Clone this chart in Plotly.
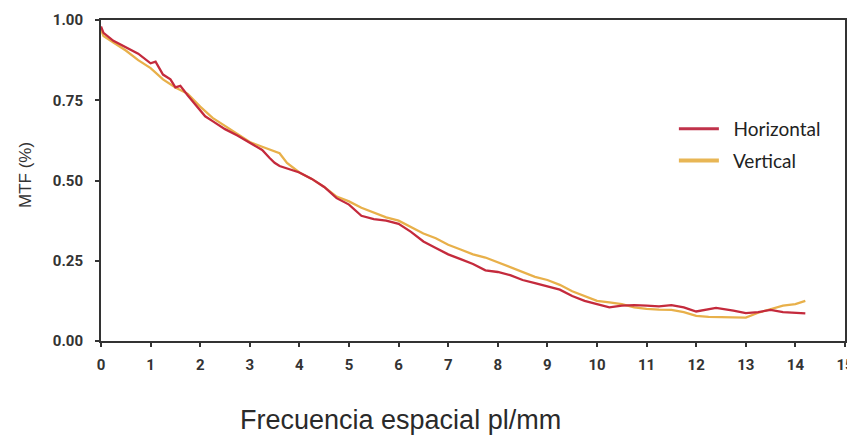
import plotly.graph_objects as go

# Horizontal (red) MTF curve
h_x = [0.00, 0.05, 0.25, 0.50, 0.60, 0.75, 1.00, 1.10, 1.25, 1.40, 1.50, 1.60, 1.75, 2.00, 2.10,
       2.25, 2.50, 2.75, 3.00, 3.25, 3.40, 3.50, 3.60, 3.75, 4.00, 4.25, 4.50, 4.75, 5.00, 5.25, 5.50,
       5.75, 6.00, 6.25, 6.50, 6.75, 7.00, 7.25, 7.50, 7.75, 8.00, 8.25, 8.50, 8.75, 9.00, 9.25,
       9.50, 9.75, 10.00, 10.25, 10.50, 10.75, 11.00, 11.25, 11.50, 11.75, 12.00, 12.25, 12.40,
       12.75, 13.00, 13.25, 13.50, 13.75, 14.00, 14.20]
h_y = [0.98, 0.96, 0.935, 0.915, 0.905, 0.895, 0.865, 0.87, 0.83, 0.815, 0.79, 0.795, 0.765, 0.72, 0.70,
       0.685, 0.66, 0.64, 0.617, 0.595, 0.57, 0.555, 0.545, 0.537, 0.525, 0.505, 0.48, 0.445, 0.425, 0.39, 0.38,
       0.375, 0.365, 0.34, 0.31, 0.29, 0.27, 0.255, 0.24, 0.22, 0.215, 0.205, 0.19, 0.18, 0.17, 0.16,
       0.14, 0.125, 0.115, 0.105, 0.11, 0.112, 0.11, 0.108, 0.112, 0.105, 0.092, 0.10, 0.103,
       0.095, 0.087, 0.09, 0.097, 0.09, 0.087, 0.086]

# Vertical (yellow) MTF curve
v_x = [0.00, 0.05, 0.25, 0.50, 0.75, 1.00, 1.25, 1.50, 1.75, 2.00, 2.25, 2.50, 2.75, 3.00, 3.25,
       3.50, 3.60, 3.75, 4.00, 4.25, 4.50, 4.75, 5.00, 5.25, 5.50, 5.75, 6.00, 6.25, 6.50, 6.75,
       7.00, 7.25, 7.50, 7.75, 8.00, 8.25, 8.50, 8.75, 9.00, 9.25, 9.50, 9.75, 10.00, 10.25, 10.50,
       10.75, 11.00, 11.25, 11.50, 11.75, 12.00, 12.25, 12.50, 12.75, 13.00, 13.25, 13.50, 13.75,
       14.00, 14.20]
v_y = [0.97, 0.95, 0.93, 0.905, 0.875, 0.85, 0.815, 0.79, 0.77, 0.73, 0.695, 0.67, 0.645, 0.62, 0.605,
       0.59, 0.585, 0.555, 0.525, 0.505, 0.48, 0.45, 0.435, 0.415, 0.40, 0.385, 0.375, 0.355, 0.335, 0.32,
       0.30, 0.285, 0.27, 0.26, 0.245, 0.23, 0.215, 0.20, 0.19, 0.175, 0.155, 0.14, 0.125, 0.12, 0.115,
       0.105, 0.10, 0.098, 0.097, 0.09, 0.078, 0.075, 0.074, 0.072, 0.073, 0.088, 0.10, 0.11,
       0.115, 0.125]

x_ticks = list(range(0, 16))
y_ticks = [0.0, 0.25, 0.5, 0.75, 1.0]
y_tick_text = ["0.00", "0.25", "0.50", "0.75", "1.00"]

tick_font = dict(family="Liberation Sans Narrow, Roboto, sans-serif",
                 size=15, color="#333333", weight="bold")

fig = go.Figure()
fig.add_trace(go.Scatter(x=v_x, y=v_y, mode="lines", name="Vertical",
                         line=dict(color="#E8B04A", width=2.3), showlegend=False))
fig.add_trace(go.Scatter(x=h_x, y=h_y, mode="lines", name="Horizontal",
                         line=dict(color="#C42A3C", width=2.3), showlegend=False))
# legend entries (thicker samples)
fig.add_trace(go.Scatter(x=[None], y=[None], mode="lines", name="\u00a0\u00a0Horizontal",
                         legendgroup="h", line=dict(color="#C0324A", width=3)))
fig.add_trace(go.Scatter(x=[None], y=[None], mode="lines", name="\u00a0\u00a0Vertical",
                         legendgroup="v", line=dict(color="#E8B655", width=4)))

# page body has an 8px margin, so the figure is sized to fit inside 855x448 without scrolling
fig.update_layout(
    width=847, height=428,
    margin=dict(l=93, r=10, t=12, b=95, autoexpand=False),
    paper_bgcolor="white", plot_bgcolor="white",
    showlegend=True,
    legend=dict(x=0.77, y=0.72, xanchor="left", yanchor="top",
                font=dict(family="Lato, Open Sans, sans-serif", size=19, color="#222222"),
                bgcolor="rgba(0,0,0,0)", traceorder="grouped", tracegroupgap=4, itemwidth=40),
    xaxis=dict(range=[0, 15], tickvals=x_ticks, ticktext=[str(t) for t in x_ticks],
               showline=True, linecolor="#333333", linewidth=2, mirror=True,
               ticks="outside", ticklen=4, tickwidth=2, tickcolor="#333333",
               ticklabelstandoff=5, ticklabeloverflow="allow",
               showgrid=False, zeroline=False, tickfont=tick_font),
    yaxis=dict(range=[0, 1], tickvals=y_ticks, ticktext=y_tick_text,
               showline=True, linecolor="#333333", linewidth=2, mirror=True,
               ticks="outside", ticklen=4, tickwidth=2, tickcolor="#333333",
               ticklabelstandoff=9,
               showgrid=False, zeroline=False, tickfont=tick_font),
    annotations=[
        dict(text="Frecuencia espacial pl/mm", xref="paper", yref="paper",
             x=(400 - 101) / 744, y=-(420 - 341) / 321, xanchor="center", yanchor="middle",
             showarrow=False, font=dict(family="Liberation Sans, Arial, sans-serif", size=27, color="#2a2a2a")),
        dict(text="MTF (%)", xref="paper", yref="paper", textangle=-90,
             x=-(101 - 25) / 744, y=(341 - 175) / 321, xanchor="center", yanchor="middle",
             showarrow=False, font=dict(family="Liberation Sans, Arial, sans-serif", size=17, color="#333333")),
    ],
)

fig.write_html("out.html")
